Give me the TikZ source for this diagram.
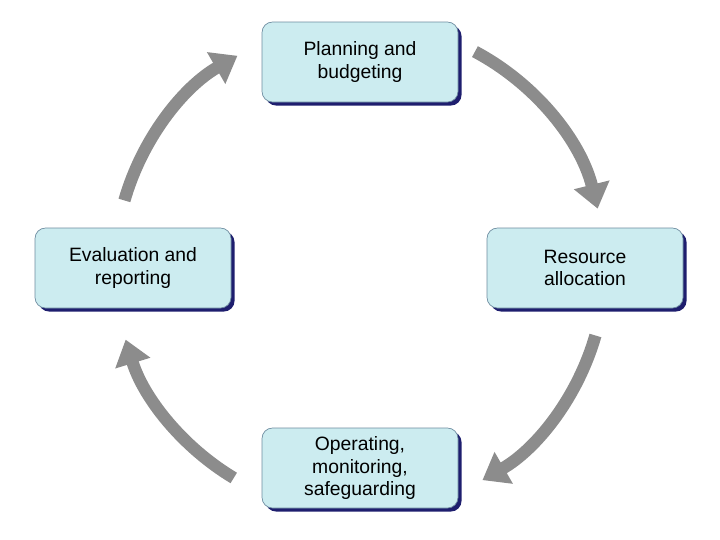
\documentclass[tikz,border=0pt]{standalone}
\usepackage{fontspec}
\setmainfont{Liberation Sans}
\usetikzlibrary{arrows.meta,shadows}
\definecolor{boxfill}{RGB}{204,236,240}
\definecolor{boxline}{RGB}{110,140,160}
\definecolor{shadowblue}{RGB}{30,30,110}
\tikzset{
  stage/.style={draw=boxline, fill=boxfill, rounded corners=6pt, minimum width=196*0.02cm,
    minimum height=80*0.02cm, align=center, font=\fontsize{11}{13}\selectfont,
    drop shadow={shadow xshift=2pt, shadow yshift=-2pt, fill=shadowblue, opacity=1}},
  cyc/.style={draw=gray!90, line width=7pt, -{Triangle[length=14pt,width=20pt]}}
}
\begin{document}
\begin{tikzpicture}[x=0.02cm,y=-0.02cm]
\useasboundingbox (0,0) rectangle (720,539);
\node[stage] (plan) at (360,62) {Planning and\\budgeting};
\node[stage] (res) at (585,268) {Resource\\allocation};
\node[stage] (ops) at (360,468) {Operating,\\monitoring,\\safeguarding};
\node[stage] (eval) at (133,268) {Evaluation and\\reporting};

% arrows around the cycle
\begin{scope}[shift={(7.2cm,-5.36cm)}, x=0.02cm, y=0.02cm]
\draw[cyc] (62:245) arc (62:14:245);
\draw[cyc] (-16:245) arc (-16:-60:245);
\draw[cyc] (-121:245) arc (-121:-163:245);
\draw[cyc] (164:245) arc (164:120:245);
\end{scope}
\end{tikzpicture}
\end{document}
